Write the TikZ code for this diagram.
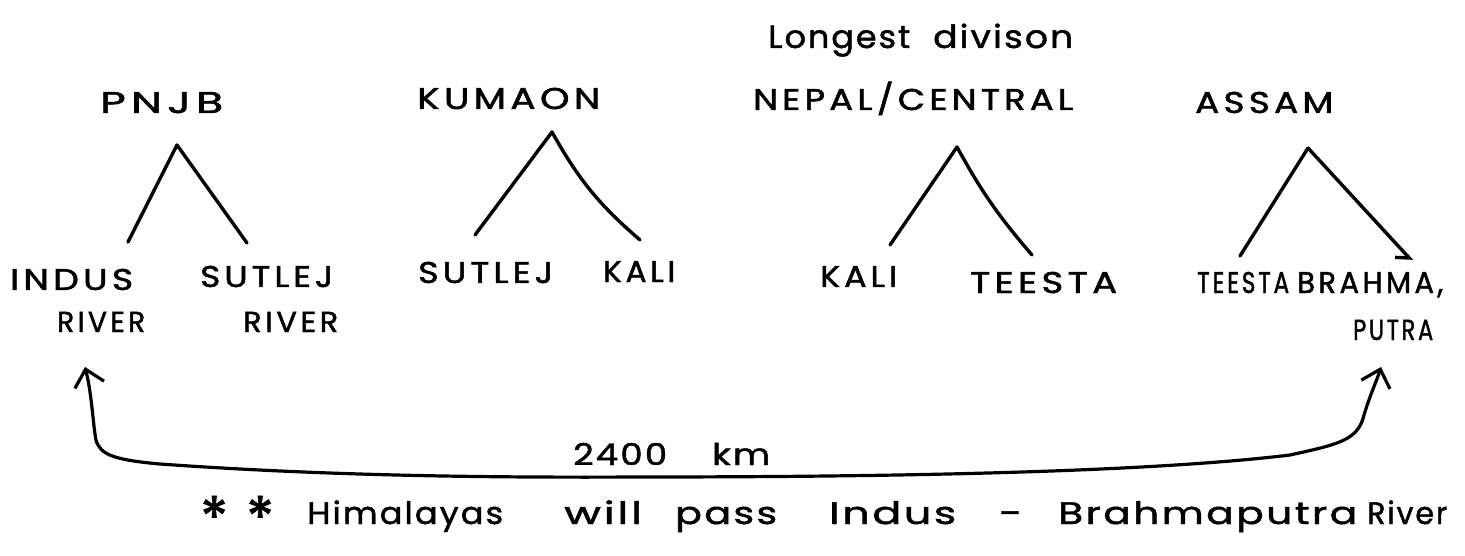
\documentclass[tikz,border=0pt]{standalone}
\usepackage{fontspec}
\setmainfont{Poppins}
\newfontfamily\capsfont[LetterSpace=12,FakeBold=1.6]{Poppins}
\newfontfamily\notefont[LetterSpace=6,FakeBold=1.4]{Poppins}
\usetikzlibrary{arrows.meta}
% stretch a word horizontally to a given width, keeping its height
\newcommand{\hw}[2]{\resizebox{#1pt}{\height}{#2}}
\newcommand{\astk}{\raisebox{-14pt}{\resizebox{28pt}{42pt}{*}}}
\begin{document}
\begin{tikzpicture}[x=1pt,y=-1pt,
  lab/.style={font=\capsfont\fontsize{30}{32}\selectfont, inner sep=0pt, anchor=base west},
  small/.style={font=\capsfont\fontsize{29}{31}\selectfont, inner sep=0pt, anchor=base west},
  note/.style={font=\notefont\fontsize{31}{33}\selectfont, inner sep=0pt, anchor=base west},
  branch/.style={line width=3.4pt, line cap=round, line join=round},
  tipped/.style={-{Straight Barb[right,length=10pt,width=20pt]}},
  span/.style={line width=3.2pt, line cap=round, >={Straight Barb[length=16pt,width=30pt]}, <->}]

\path[fill=white, use as bounding box] (0,0) rectangle (1465,556);

% division headings
\node[note, font=\notefont\fontsize{32}{34}\selectfont] (longest) at (768,48) {\hw{142}{Longest}\hspace{23pt}\hw{140}{divison}};
\node[lab] (pnjb)   at (100,113)  {\hw{123}{PNJB}};
\node[lab] (kumaon) at (417,109)  {\hw{183}{KUMAON}};
\node[lab] (nepal)  at (753,110)  {\hw{320}{NEPAL/CENTRAL}};
\node[lab] (assam)  at (1195,113) {\hw{138}{ASSAM}};

% river boundaries
\node[lab]   (indus)   at (10,290)   {\hw{123}{INDUS}};
\node[small] (riverA)  at (57,332)   {\hw{88}{RIVER}};
\node[lab]   (sutlejA) at (200,287)  {\hw{133}{SUTLEJ}};
\node[small] (riverB)  at (243,332)  {\hw{95}{RIVER}};
\node[lab]   (sutlejB) at (418,283)  {\hw{135}{SUTLEJ}};
\node[lab]   (kaliA)   at (603,282)  {\hw{72}{KALI}};
\node[lab]   (kaliB)   at (820,287)  {\hw{77}{KALI}};
\node[lab]   (teestaA) at (970,293)  {\hw{147}{TEESTA}};
\node[lab]   (teestaB) at (1197,293) {\hw{92}{TEESTA}};
\node[lab]   (brahma)  at (1297,293) {\hw{146}{BRAHMA,}};
\node[small] (putra)   at (1353,340) {\hw{80}{PUTRA}};

% branch points
\coordinate (pnjbTop) at (177,145);   \coordinate (pnjbL) at (128,242);   \coordinate (pnjbR) at (247,243);
\coordinate (kumTop)  at (552,132);   \coordinate (kumL)  at (475,235);   \coordinate (kumR)  at (640,240);
\coordinate (nepTop)  at (957,147);   \coordinate (nepL)  at (890,245);   \coordinate (nepR)  at (1032,255);
\coordinate (assTop)  at (1308,148);  \coordinate (assL)  at (1240,256);  \coordinate (assR)  at (1412,261);

\draw[branch] (pnjbL) -- (pnjbTop) -- (pnjbR);
\draw[branch] (kumL) -- (kumTop) to[bend right=10] (kumR);
\draw[branch] (nepL) -- (nepTop) to[bend right=6] (nepR);
\draw[branch] (assL) -- (assTop);
\draw[branch, tipped] (assTop) -- (assR);

% extent of the range
\coordinate (west) at (85,367);
\coordinate (east) at (1381,367);
\draw[span] (west) .. controls (92,395) and (93,425) .. (96,440)
  .. controls (100,455) and (115,460) .. (160,464)
  .. controls (300,474) and (450,478) .. (640,477)
  .. controls (900,477) and (1150,472) .. (1290,455)
  .. controls (1340,444) and (1358,440) .. (1364,415)
  .. controls (1370,395) and (1377,380) .. (east);

\node[note, font=\notefont\fontsize{30}{32}\selectfont] (dist) at (573,465) {\hw{94}{2400}\hspace{45pt}\hw{58}{km}};

\node[note] (remark) at (200,524) {\makebox[74pt][s]{\astk\hfill\astk}\hspace{33pt}\hw{196}{Himalayas}\hspace{61pt}\hw{78}{will}\hspace{33pt}\hw{102}{pass}\hspace{52pt}\hw{127}{Indus}\hspace{43pt}\hw{23}{-}\hspace{36pt}\hw{299}{Brahmaputra}\hspace{10pt}\hw{80}{River}};
\end{tikzpicture}
\end{document}
